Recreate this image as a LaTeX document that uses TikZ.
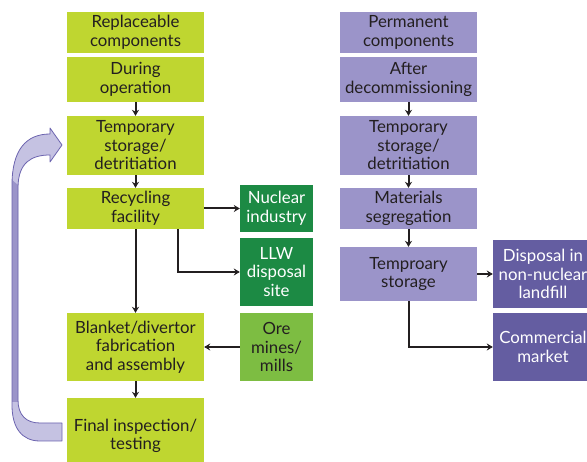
\documentclass[tikz,border=0pt]{standalone}
\usepackage{fontspec}
\setmainfont{Lato}
\usetikzlibrary{positioning, calc, arrows.meta}
\definecolor{xlime}{HTML}{BFD630}
\definecolor{xgreen}{HTML}{1C8A44}
\definecolor{xleaf}{HTML}{7DBD42}
\definecolor{xlilac}{HTML}{9B94C9}
\definecolor{xviolet}{HTML}{645DA1}
\definecolor{xpale}{HTML}{C5C2E2}
\definecolor{xedge}{HTML}{6C64AF}
\definecolor{xink}{HTML}{231F20}
\tikzset{
	box/.style={align=center, inner sep=0pt, minimum height=#1},
	stage/.style={box=#1, fill=xlime, text=xink, minimum width=137},
	perm/.style={box=#1, fill=xlilac, text=xink, minimum width=137},
	outlet/.style={box=#1, fill=xgreen, text=white, minimum width=73},
	source/.style={box=#1, fill=xleaf, text=xink, minimum width=73},
	sink/.style={box=#1, fill=xviolet, text=white, minimum width=100},
	flow/.style={draw=xink, line width=2pt, -{Stealth[length=6pt,width=7pt]}},
}
\begin{document}
\begin{tikzpicture}[x=1pt, y=-1pt, every node/.style={font=\fontsize{16.8}{18.5}\selectfont}]
	\useasboundingbox (0,0) rectangle (587,462);
	% replaceable components
	\node[stage=41] (rep) at (135.5,32.5) {Replaceable\\components};
	\node[stage=45] (dur) at (135.5,79.5) {During\\operation};
	\node[stage=59] (tmp) at (135.5,145.5) {Temporary\\storage/\\detritiation};
	\node[stage=41] (rec) at (135.5,208.5) {Recycling\\facility};
	\node[stage=68] (bla) at (135.5,347) {Blanket/divertor\\fabrication\\and assembly};
	\node[stage=76] (fin) at (135.5,436) {Final inspection/\\testing};
	\node[outlet=47] (nuc) at (276.5,208.5) {Nuclear\\industry};
	\node[outlet=68] (llw) at (276.5,272) {LLW\\disposal\\site};
	\node[source=68] (ore) at (276.5,347) {Ore\\mines/\\mills};
	% permanent components
	\node[perm=41] (per) at (408.5,32.5) {Permanent\\components};
	\node[perm=45] (aft) at (408.5,79.5) {After\\decommissioning};
	\node[perm=59] (tmq) at (408.5,145.5) {Temporary\\storage/\\detritiation};
	\node[perm=41] (mat) at (408.5,208.5) {Materials\\segregation};
	\node[perm=54] (tst) at (408.5,274) {Temproary\\storage};
	\node[sink=68] (dis) at (543,274) {Disposal in\\non-nuclear\\landfill};
	\node[sink=68] (com) at (543,347) {Commercial\\market};

	\draw[flow] (dur) -- (tmp);
	\draw[flow] (tmp) -- (rec);
	\draw[flow] (rec) -- (nuc);
	\draw[flow] (rec) -- (bla);
	\draw[flow] ($(rec.south)+(42.5,0)$) |- (llw.west);
	\draw[flow] (ore) -- (bla);
	\draw[flow] (bla) -- (fin);
	\draw[flow] (aft) -- (tmq);
	\draw[flow] (tmq) -- (mat);
	\draw[flow] (mat) -- (tst);
	\draw[flow] (tst) -- (dis);
	\draw[flow] (tst.south) |- (com.west);

	% return arrow
	\fill[xpale] (62,441) -- (40,441) .. controls (22,441) and (12,428) .. (12,405) -- (12,185) .. controls (12,150) and (26,134) .. (50,134) -- (50,128) -- (62,145) -- (50,162) -- (50,155) .. controls (32,155) and (18,162) .. (18,188) -- (18,400) .. controls (18,415) and (26,423) .. (40,423) -- (62,423) -- cycle;
	\fill[xlilac] (12,180) -- (12,402) -- (18,402) -- (18,185) -- cycle;
	\draw[xedge, line width=0.8pt, line join=round] (62,441) -- (40,441) .. controls (22,441) and (12,428) .. (12,405) -- (12,185) .. controls (12,150) and (26,134) .. (50,134) -- (50,128) -- (62,145) -- (50,162) -- (50,155) .. controls (32,155) and (18,162) .. (18,188) -- (18,400) .. controls (18,415) and (26,423) .. (40,423) -- (62,423) -- cycle;
\end{tikzpicture}
\end{document}
